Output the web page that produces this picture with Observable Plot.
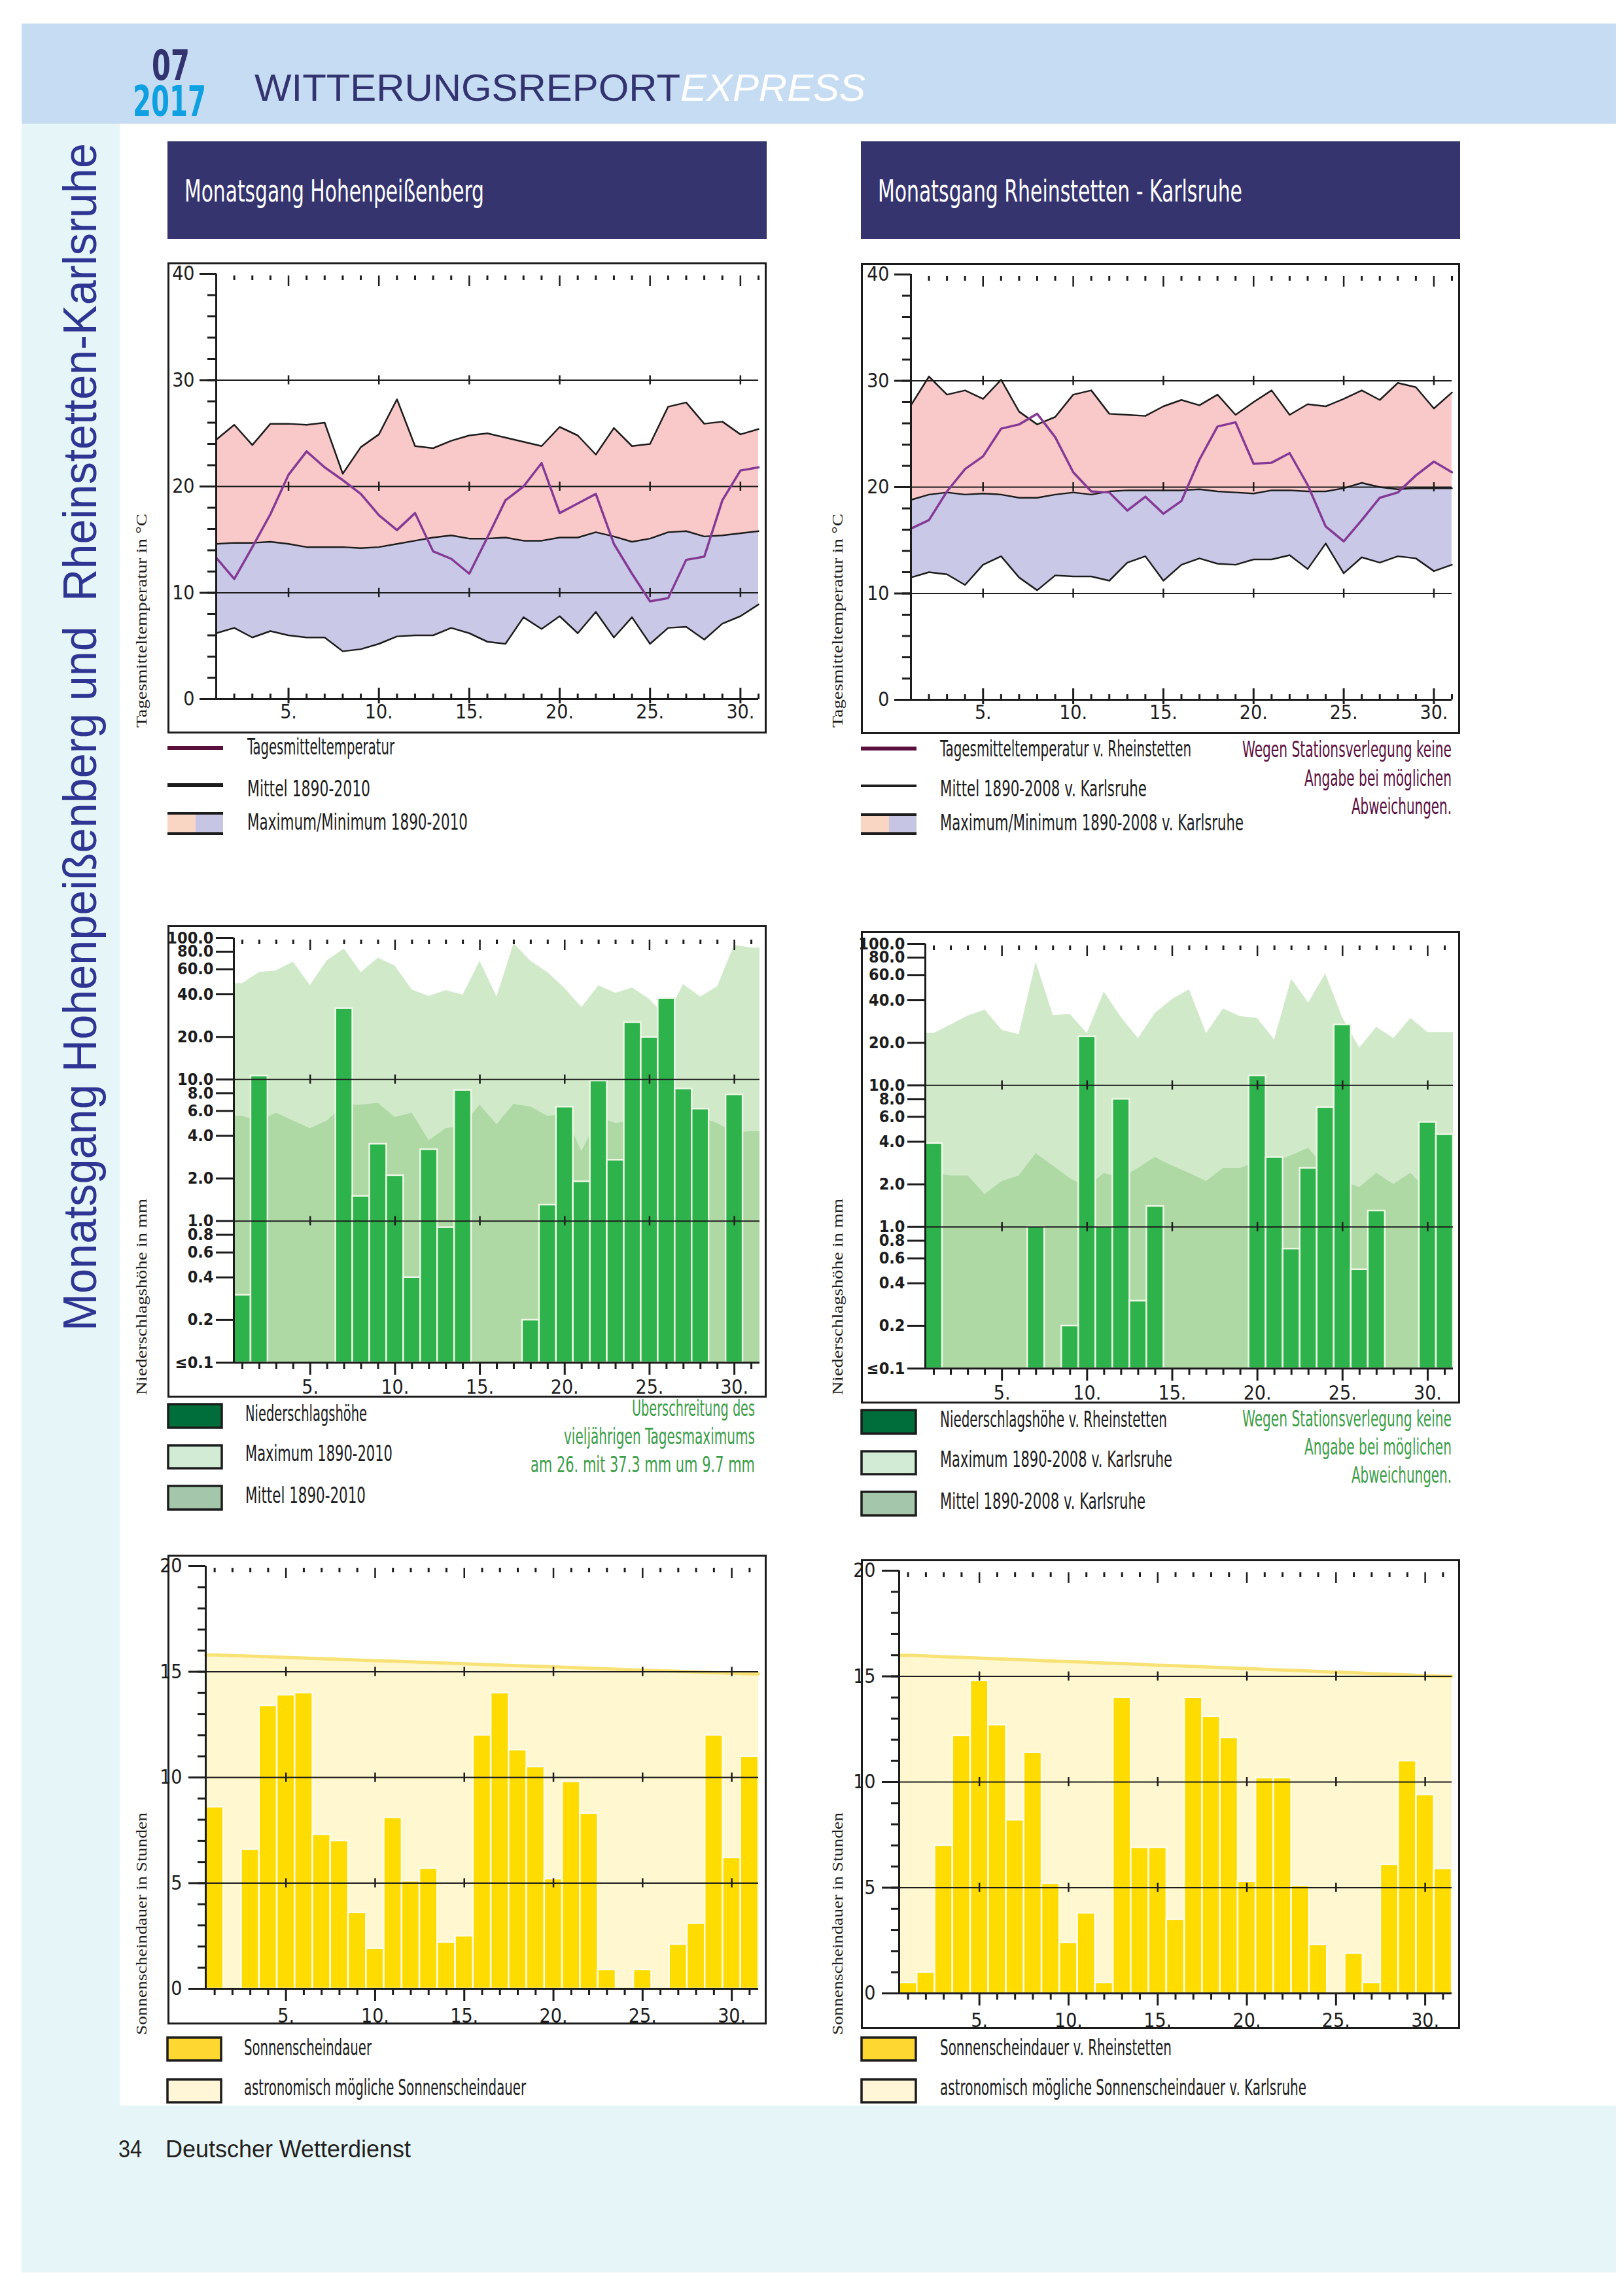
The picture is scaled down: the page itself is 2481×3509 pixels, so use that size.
<!DOCTYPE html>
<html><head><meta charset="utf-8">
<script src="https://cdn.jsdelivr.net/npm/d3@7"></script>
<script src="https://cdn.jsdelivr.net/npm/@observablehq/plot@0.6"></script>
<style>
body{margin:0;background:#fff;}
#page{position:relative;width:2481px;height:3509px;overflow:hidden;background:#fff;}
.frame{position:absolute;box-sizing:border-box;border:3px solid #1c1c1c;pointer-events:none;}
</style>
</head><body><div id="page"></div>
<script>
// ---------------- data ----------------
const days = d3.range(1, 32);
const dayTickLabels = [5, 10, 15, 20, 25, 30];

const tempTicks = [0, 10, 20, 30, 40];
const tempMinorTicks = [0, 2, 4, 6, 8, 10, 12, 14, 16, 18, 20, 22, 24, 26, 28, 30, 32, 34, 36, 38, 40];
const tempGrid = [10, 20, 30];

const precTicks = [0.1, 0.2, 0.4, 0.6, 0.8, 1, 2, 4, 6, 8, 10, 20, 40, 60, 80, 100];
const precGrid = [1, 10];

const sunTicks = [0, 5, 10, 15, 20];
const sunMinorTicks = [0, 1, 2, 3, 4, 5, 6, 7, 8, 9, 10, 11, 12, 13, 14, 15, 16, 17, 18, 19, 20];
const sunGrid = [5, 10, 15];

// Hohenpeißenberg – temperature
const hpTemp = [13.3, 11.3, 14.3, 17.4, 21.1, 23.3, 21.8, 20.6, 19.3, 17.3, 15.9, 17.5, 13.9, 13.2, 11.8, 15.2, 18.7, 20.0, 22.2, 17.5, 18.4, 19.3, 14.6, 11.8, 9.2, 9.5, 13.1, 13.4, 18.7, 21.5, 21.8];
const hpMax = [24.4, 25.8, 23.9, 25.9, 25.9, 25.8, 26.0, 21.2, 23.7, 24.9, 28.2, 23.8, 23.6, 24.3, 24.8, 25.0, 24.6, 24.2, 23.8, 25.6, 24.8, 23.0, 25.5, 23.8, 24.0, 27.5, 27.9, 25.9, 26.1, 24.9, 25.4];
const hpMean = [14.6, 14.7, 14.7, 14.8, 14.6, 14.3, 14.3, 14.3, 14.2, 14.3, 14.6, 14.9, 15.2, 15.4, 15.1, 15.1, 15.2, 14.9, 14.9, 15.2, 15.2, 15.7, 15.3, 14.8, 15.1, 15.7, 15.8, 15.3, 15.4, 15.6, 15.8];
const hpMin = [6.2, 6.7, 5.8, 6.4, 6.0, 5.8, 5.8, 4.5, 4.7, 5.2, 5.9, 6.0, 6.0, 6.7, 6.2, 5.4, 5.2, 7.7, 6.6, 7.8, 6.2, 8.2, 5.8, 7.7, 5.2, 6.7, 6.8, 5.6, 7.1, 7.8, 8.9];

// Rheinstetten / Karlsruhe – temperature
const rsTemp = [16.1, 16.9, 19.6, 21.7, 22.9, 25.5, 25.9, 26.9, 24.7, 21.4, 19.6, 19.5, 17.8, 19.1, 17.5, 18.7, 22.6, 25.7, 26.1, 22.2, 22.3, 23.2, 20.2, 16.3, 14.9, 16.9, 19.0, 19.5, 21.1, 22.4, 21.4];
const rsMax = [27.7, 30.4, 28.7, 29.1, 28.3, 30.1, 27.1, 25.9, 26.6, 28.7, 29.1, 26.9, 26.8, 26.7, 27.6, 28.2, 27.7, 28.7, 26.8, 28.0, 29.1, 26.8, 27.8, 27.6, 28.3, 29.1, 28.2, 29.8, 29.4, 27.4, 28.9];
const rsMean = [18.8, 19.3, 19.5, 19.3, 19.4, 19.3, 19.0, 19.0, 19.3, 19.5, 19.3, 19.6, 19.7, 19.7, 19.7, 19.7, 19.8, 19.6, 19.5, 19.4, 19.7, 19.7, 19.6, 19.6, 19.9, 20.4, 20.0, 19.8, 19.9, 19.9, 19.9];
const rsMin = [11.5, 12.0, 11.8, 10.8, 12.7, 13.5, 11.5, 10.3, 11.7, 11.6, 11.6, 11.2, 12.9, 13.5, 11.2, 12.7, 13.3, 12.8, 12.7, 13.2, 13.2, 13.6, 12.3, 14.7, 11.9, 13.4, 12.9, 13.5, 13.3, 12.1, 12.7];

// precipitation (mm)
const hpPrec = [0.3, 10.6, 0, 0, 0, 0, 31.8, 1.5, 3.5, 2.1, 0.4, 3.2, 0.9, 8.4, 0, 0, 0, 0.2, 1.3, 6.4, 1.9, 9.8, 2.7, 25.3, 19.9, 37.3, 8.6, 6.2, 0, 7.8, 0];
const hpPrecMax = [47.7, 57.2, 58.7, 67.6, 46.3, 69.3, 83.6, 57.0, 72.3, 63.5, 43.0, 38.8, 42.6, 39.6, 68.6, 38.4, 91.3, 68.6, 57.0, 44.2, 32.3, 46.0, 40.8, 44.4, 36.8, 27.6, 47.0, 38.4, 45.3, 89.0, 85.0];
const hpPrecMean = [5.5, 5.1, 5.8, 5.1, 4.5, 5.1, 6.6, 6.6, 6.8, 5.4, 5.8, 3.7, 4.5, 4.7, 6.6, 4.8, 6.7, 6.4, 5.5, 5.7, 3.1, 5.4, 4.9, 5.1, 5.7, 5.5, 5.4, 5.4, 4.9, 4.2, 4.3];

const rsPrec = [3.9, 0, 0, 0, 0, 0, 1.0, 0, 0.2, 22.1, 1.0, 8.0, 0.3, 1.4, 0, 0, 0, 0, 0, 11.7, 3.1, 0.7, 2.6, 7.0, 26.8, 0.5, 1.3, 0, 0, 5.5, 4.5];
const rsPrecMax = [23.3, 26.8, 31.0, 34.1, 24.6, 22.9, 74.3, 31.3, 31.8, 23.3, 45.8, 30.3, 21.5, 32.4, 40.6, 47.5, 23.3, 34.8, 30.7, 29.8, 21.0, 56.5, 38.3, 61.6, 30.0, 18.4, 25.8, 21.5, 29.8, 23.7, 23.7];
const rsPrecMean = [2.4, 2.3, 2.3, 1.7, 2.1, 2.3, 3.3, 2.7, 2.2, 1.9, 2.4, 2.2, 2.6, 3.1, 2.7, 2.4, 2.1, 2.6, 2.6, 2.9, 2.9, 3.2, 3.6, 2.6, 2.1, 1.9, 2.4, 2.0, 2.4, 1.8, 1.8];

// sunshine (hours)
const hpSun = [8.6, 0, 6.6, 13.4, 13.9, 14.0, 7.3, 7.0, 3.6, 1.9, 8.1, 5.1, 5.7, 2.2, 2.5, 12.0, 14.0, 11.3, 10.5, 5.2, 9.8, 8.3, 0.9, 0, 0.9, 0, 2.1, 3.1, 12.0, 6.2, 11.0];
const hpAstro = [15.8, 15.77, 15.74, 15.71, 15.68, 15.65, 15.62, 15.59, 15.56, 15.53, 15.5, 15.47, 15.44, 15.41, 15.38, 15.35, 15.32, 15.29, 15.26, 15.23, 15.2, 15.17, 15.14, 15.11, 15.08, 15.05, 15.02, 14.99, 14.96, 14.93, 14.9];
const rsSun = [0.5, 1.0, 7.0, 12.2, 14.8, 12.7, 8.2, 11.4, 5.2, 2.4, 3.8, 0.5, 14.0, 6.9, 6.9, 3.5, 14.0, 13.1, 12.1, 5.3, 10.2, 10.2, 5.1, 2.3, 0, 1.9, 0.5, 6.1, 11.0, 9.4, 5.9];
const rsAstro = [16.0, 15.97, 15.93, 15.9, 15.87, 15.83, 15.8, 15.77, 15.73, 15.7, 15.67, 15.63, 15.6, 15.57, 15.53, 15.5, 15.47, 15.43, 15.4, 15.37, 15.33, 15.3, 15.27, 15.23, 15.2, 15.17, 15.13, 15.1, 15.07, 15.03, 15.0];

// ---------------- helpers ----------------
const FONT = '"Liberation Sans Narrow","DejaVu Sans Condensed","Liberation Sans",Arial,sans-serif';
const SANS = '"Liberation Sans",Arial,sans-serif';
const SERIF = '"Liberation Serif","DejaVu Serif",serif';
const page = document.getElementById("page");
const INK = "#1c1c1c";

const bg = d3.select(page).append("svg")
  .attr("width", 2481).attr("height", 3509)
  .style("position", "absolute").style("left", "0px").style("top", "0px");

function rect(x, y, w, h, fill, stroke) {
  const r = bg.append("rect").attr("x", x).attr("y", y).attr("width", w).attr("height", h).attr("fill", fill);
  if (stroke) r.attr("stroke", stroke).attr("stroke-width", 3.5);
  return r;
}
function txt(s, x, y, len, size, fill, o = {}) {
  const t = bg.append("text").attr("x", x).attr("y", y)
    .attr("font-size", size).attr("fill", fill)
    .attr("font-family", o.family || FONT).style("white-space", "pre").text(s);
  if (len) t.attr("textLength", len).attr("lengthAdjust", "spacingAndGlyphs");
  if (o.weight) t.attr("font-weight", o.weight);
  if (o.italic) t.attr("font-style", "italic");
  if (o.rotate) t.attr("transform", `rotate(-90 ${x} ${y})`);
  return t;
}
function ext(arr) {
  return [{day: 0.5, v: arr[0]}, ...arr.map((v, i) => ({day: days[i], v})), {day: 31.5, v: arr[arr.length - 1]}];
}
function place(svg, x, y, w, h) {
  svg.style.position = "absolute";
  svg.style.left = x + "px";
  svg.style.top = y + "px";
  page.appendChild(svg);
  const f = document.createElement("div");
  f.className = "frame";
  Object.assign(f.style, {left: x + "px", top: y + "px", width: w + "px", height: h + "px"});
  page.appendChild(f);
}
const plotStyle = {fontFamily: FONT, fontSize: "30px", color: INK, background: "#fff", overflow: "visible"};

// ticks drawn at top row / bottom / across grid lines
function dayTicks(tickDaysAll, yTop, yBottom, grid, bottomUp) {
  const minor = tickDaysAll.filter(d => d % 5 !== 0);
  const major = dayTickLabels;
  const gridTicks = major.flatMap(d => grid.map(g => ({d, g})));
  const marks = [
    Plot.ruleX(minor, {x: d => d, y1: yTop, y2: yTop, insetTop: 3, insetBottom: -10, stroke: INK, strokeWidth: 3}),
    Plot.ruleX(major, {x: d => d, y1: yTop, y2: yTop, insetTop: 3, insetBottom: -19, stroke: INK, strokeWidth: 2.5}),
    Plot.ruleX(gridTicks, {x: "d", y1: "g", y2: "g", insetTop: -7, insetBottom: -7, stroke: INK, strokeWidth: 2.5})
  ];
  if (bottomUp) {
    marks.push(Plot.ruleX(minor, {x: d => d, y1: yBottom, y2: yBottom, insetTop: -8, insetBottom: 0, stroke: INK, strokeWidth: 3}));
    marks.push(Plot.ruleX(major, {x: d => d, y1: yBottom, y2: yBottom, insetTop: -17, insetBottom: -7, stroke: INK, strokeWidth: 3}));
  } else {
    marks.push(Plot.ruleX(minor, {x: d => d, y1: yBottom, y2: yBottom, insetTop: 2, insetBottom: -10, stroke: INK, strokeWidth: 3}));
    marks.push(Plot.ruleX(major, {x: d => d, y1: yBottom, y2: yBottom, insetTop: 0, insetBottom: -19, stroke: INK, strokeWidth: 3}));
  }
  return marks;
}

// ---------------- chart builders ----------------
function tempChart(temp, max, mean, min, ml) {
  const rows = days.map((d, i) => ({day: d, t: temp[i], max: max[i], mean: mean[i], min: min[i]}));
  return Plot.plot({
    width: 916, height: 720, marginLeft: ml, marginRight: 13, marginTop: 17, marginBottom: 53,
    x: {domain: [days[0], days[days.length - 1]]},
    y: {domain: [tempTicks[0], tempTicks[tempTicks.length - 1]]},
    style: plotStyle,
    marks: [
      Plot.areaY(rows, {x: "day", y1: "mean", y2: "max", fill: "#f9c8c8"}),
      Plot.areaY(rows, {x: "day", y1: "min", y2: "mean", fill: "#c9c8e6"}),
      Plot.ruleY(tempGrid, {stroke: INK, strokeWidth: 2}),
      Plot.line(rows, {x: "day", y: "max", stroke: INK, strokeWidth: 2.5}),
      Plot.line(rows, {x: "day", y: "mean", stroke: INK, strokeWidth: 2.5}),
      Plot.line(rows, {x: "day", y: "min", stroke: INK, strokeWidth: 2.5}),
      Plot.line(rows, {x: "day", y: "t", stroke: "#843a95", strokeWidth: 3.5}),
      ...dayTicks(days.slice(1), tempTicks[tempTicks.length - 1], tempTicks[0], tempGrid, true),
      Plot.ruleX([days[0]], {stroke: INK, strokeWidth: 3}),
      Plot.ruleY([tempTicks[0]], {stroke: INK, strokeWidth: 3}),
      Plot.axisY({ticks: tempTicks, tickSize: 25, tickPadding: 8, stroke: INK, strokeWidth: 3, fontSize: 30, label: null}),
      Plot.axisY({ticks: tempMinorTicks, tickSize: 13, tickFormat: () => "", stroke: INK, strokeWidth: 3, label: null}),
      Plot.axisX({ticks: dayTickLabels, tickSize: 0, tickPadding: 8, tickFormat: d => d + ".", fontSize: 30, label: null})
    ]
  });
}

function precChart(prec, pmax, pmean, ml) {
  const bars = prec.map((v, i) => ({day: days[i], v})).filter(d => d.v > 0);
  const lo = precTicks[0], hi = precTicks[precTicks.length - 1];
  const fmt = d => d <= lo ? "≤0.1" : d.toFixed(1);
  return Plot.plot({
    width: 916, height: 722, marginLeft: ml, marginRight: 11, marginTop: 19, marginBottom: 54,
    x: {domain: [0.5, 31.5]},
    y: {type: "log", domain: [lo, hi]},
    style: plotStyle,
    marks: [
      Plot.areaY(ext(pmax), {x: "day", y1: lo, y2: "v", fill: "#d0eac9"}),
      Plot.areaY(ext(pmean), {x: "day", y1: lo, y2: "v", fill: "#aed8a4"}),
      Plot.rect(bars, {x1: d => d.day - 0.5, x2: d => d.day + 0.5, y1: lo, y2: "v", fill: "#2eb24b", stroke: "#eef7e6", strokeWidth: 2.5}),
      Plot.ruleY(precGrid, {stroke: INK, strokeWidth: 2}),
      ...dayTicks(days, hi, lo, precGrid, false),
      Plot.ruleX([0.5], {stroke: INK, strokeWidth: 3}),
      Plot.ruleY([lo], {stroke: INK, strokeWidth: 3}),
      Plot.axisY({ticks: precTicks, tickSize: 27, tickFormat: () => "", stroke: INK, strokeWidth: 3, label: null}),
      Plot.text(precTicks, {x: 0.5, y: d => d, text: fmt, textAnchor: "end", dx: -31, fontSize: 25, fontWeight: "bold", fill: INK}),
      Plot.axisX({ticks: dayTickLabels, tickSize: 0, tickPadding: 26, tickFormat: d => d + ".", fontSize: 30, label: null})
    ]
  });
}

function sunChart(sun, astro, ml) {
  const bars = sun.map((v, i) => ({day: days[i], v})).filter(d => d.v > 0);
  const lo = sunTicks[0], hi = sunTicks[sunTicks.length - 1];
  return Plot.plot({
    width: 916, height: 718, marginLeft: ml, marginRight: 13, marginTop: 17, marginBottom: 55,
    x: {domain: [0.5, 31.5]},
    y: {domain: [lo, hi]},
    style: plotStyle,
    marks: [
      Plot.areaY(ext(astro), {x: "day", y1: lo, y2: "v", fill: "#fff7cf"}),
      Plot.line(ext(astro), {x: "day", y: "v", stroke: "#f8e275", strokeWidth: 5}),
      Plot.rect(bars, {x1: d => d.day - 0.5, x2: d => d.day + 0.5, y1: lo, y2: "v", fill: "#fedc00", stroke: "#fffbe8", strokeWidth: 2.5}),
      Plot.ruleY(sunGrid, {stroke: INK, strokeWidth: 2}),
      ...dayTicks(days, hi, lo, sunGrid, false),
      Plot.ruleX([0.5], {stroke: INK, strokeWidth: 3}),
      Plot.ruleY([lo], {stroke: INK, strokeWidth: 3}),
      Plot.axisY({ticks: sunTicks, tickSize: 26, tickPadding: 10, stroke: INK, strokeWidth: 3, fontSize: 30, label: null}),
      Plot.axisY({ticks: sunMinorTicks, tickSize: 12, tickFormat: () => "", stroke: INK, strokeWidth: 3, label: null}),
      Plot.axisX({ticks: dayTickLabels, tickSize: 0, tickPadding: 30, tickFormat: d => d + ".", fontSize: 30, label: null})
    ]
  });
}

// ---------------- page background & texts ----------------
rect(33, 36, 2437, 3437, "#e6f5f7");
rect(33, 36, 2437, 153, "#c6dcf2");
rect(183, 189, 2287, 3029, "#ffffff");
rect(256, 216, 916, 149, "#35346f");
rect(1316, 216, 916, 149, "#35346f");

txt("07", 232, 122, 58, 64, "#333370", {weight: "bold"});
txt("2017", 203, 177, 112, 64, "#0ea0e0", {weight: "bold"});
txt("WITTERUNGSREPORT", 389, 154, 651, 57, "#333370", {family: SANS});
txt("EXPRESS", 1040, 154, 283, 57, "#ffffff", {family: SANS, italic: true});

txt("Monatsgang Hohenpeißenberg und  Rheinstetten-Karlsruhe", 147, 2034, 1815, 72, "#2e3592", {family: SANS, rotate: true});

txt("Monatsgang Hohenpeißenberg", 282, 308, 458, 46, "#ffffff");
txt("Monatsgang Rheinstetten - Karlsruhe", 1342, 308, 557, 46, "#ffffff");

// rotated axis titles
[[224], [1288]].forEach(([bx]) => {
  txt("Tagesmitteltemperatur in °C", bx, 1112, 327, 23, INK, {family: SERIF, rotate: true});
  txt("Niederschlagshöhe in mm", bx, 2132, 300, 23, INK, {family: SERIF, rotate: true});
  txt("Sonnenscheindauer in Stunden", bx, 3110, 340, 23, INK, {family: SERIF, rotate: true});
});

// temperature legends
rect(256, 1140, 85, 6, "#5b0f3c");
rect(256, 1197, 85, 6, INK);
rect(256, 1243, 43, 31, "#f9d6c4"); rect(299, 1243, 42, 31, "#c6c5e3");
rect(256, 1241, 85, 4, INK); rect(256, 1272, 85, 4, INK);
txt("Tagesmitteltemperatur", 378, 1153, 225, 34, INK);
txt("Mittel 1890-2010", 378, 1217, 188, 34, INK);
txt("Maximum/Minimum 1890-2010", 378, 1268, 337, 34, INK);

rect(1316, 1141, 85, 6, "#5b0f3c");
rect(1316, 1199, 85, 4, INK);
rect(1316, 1245, 43, 29, "#f9d6c4"); rect(1359, 1245, 42, 29, "#c6c5e3");
rect(1316, 1243, 85, 4, INK); rect(1316, 1272, 85, 4, INK);
txt("Tagesmitteltemperatur v. Rheinstetten", 1437, 1156, 384, 34, INK);
txt("Mittel 1890-2008 v. Karlsruhe", 1437, 1217, 316, 34, INK);
txt("Maximum/Minimum 1890-2008 v. Karlsruhe", 1437, 1269, 464, 34, INK);
const MAROON = "#5a1040";
txt("Wegen Stationsverlegung keine", 2219 - 320, 1157, 320, 34, MAROON);
txt("Angabe bei möglichen", 2219 - 225, 1201, 225, 34, MAROON);
txt("Abweichungen.", 2219 - 153, 1244, 153, 34, MAROON);

// precipitation legends
rect(257, 2146, 82, 36, "#006e3a", INK);
rect(257, 2209, 82, 35, "#d2ebd5", INK);
rect(257, 2271, 82, 36, "#a4c7ab", INK);
txt("Niederschlagshöhe", 375, 2172, 186, 34, INK);
txt("Maximum 1890-2010", 375, 2233, 225, 34, INK);
txt("Mittel 1890-2010", 375, 2297, 184, 34, INK);
const GREEN = "#3c9e48";
txt("Überschreitung des", 1154 - 188, 2164, 188, 34, GREEN);
txt("vieljährigen Tagesmaximums", 1154 - 292, 2207, 292, 34, GREEN);
txt("am 26. mit 37.3 mm um 9.7 mm", 1154 - 343, 2250, 343, 34, GREEN);

rect(1317, 2155, 83, 36, "#006e3a", INK);
rect(1317, 2218, 83, 35, "#d2ebd5", INK);
rect(1317, 2280, 83, 36, "#a4c7ab", INK);
txt("Niederschlagshöhe v. Rheinstetten", 1437, 2181, 347, 34, INK);
txt("Maximum 1890-2008 v. Karlsruhe", 1437, 2242, 355, 34, INK);
txt("Mittel 1890-2008 v. Karlsruhe", 1437, 2306, 314, 34, INK);
txt("Wegen Stationsverlegung keine", 2219 - 320, 2180, 320, 34, GREEN);
txt("Angabe bei möglichen", 2219 - 225, 2223, 225, 34, GREEN);
txt("Abweichungen.", 2219 - 153, 2266, 153, 34, GREEN);

// sunshine legends
rect(256, 3114, 82, 35, "#fed830", INK);
rect(256, 3178, 82, 35, "#fef6d6", INK);
txt("Sonnenscheindauer", 373, 3141, 195, 34, INK);
txt("astronomisch mögliche Sonnenscheindauer", 373, 3202, 431, 34, INK);
rect(1317, 3114, 83, 35, "#fed830", INK);
rect(1317, 3178, 83, 35, "#fef6d6", INK);
txt("Sonnenscheindauer v. Rheinstetten", 1437, 3141, 354, 34, INK);
txt("astronomisch mögliche Sonnenscheindauer v. Karlsruhe", 1437, 3202, 560, 34, INK);

// footer
txt("34", 181, 3297, 36, 37, "#231f20", {family: SANS});
txt("Deutscher Wetterdienst", 253, 3297, 375, 37, "#231f20", {family: SANS});

// ---------------- charts ----------------
place(tempChart(hpTemp, hpMax, hpMean, hpMin, 74), 256, 401, 916, 720);
place(tempChart(rsTemp, rsMax, rsMean, rsMin, 76), 1316, 402, 916, 720);
place(precChart(hpPrec, hpPrecMax, hpPrecMean, 101), 256, 1414, 916, 722);
place(precChart(rsPrec, rsPrecMax, rsPrecMean, 98), 1316, 1423, 916, 722);
place(sunChart(hpSun, hpAstro, 58), 256, 2376, 916, 718);
place(sunChart(rsSun, rsAstro, 58), 1316, 2383, 916, 718);
</script></body></html>
